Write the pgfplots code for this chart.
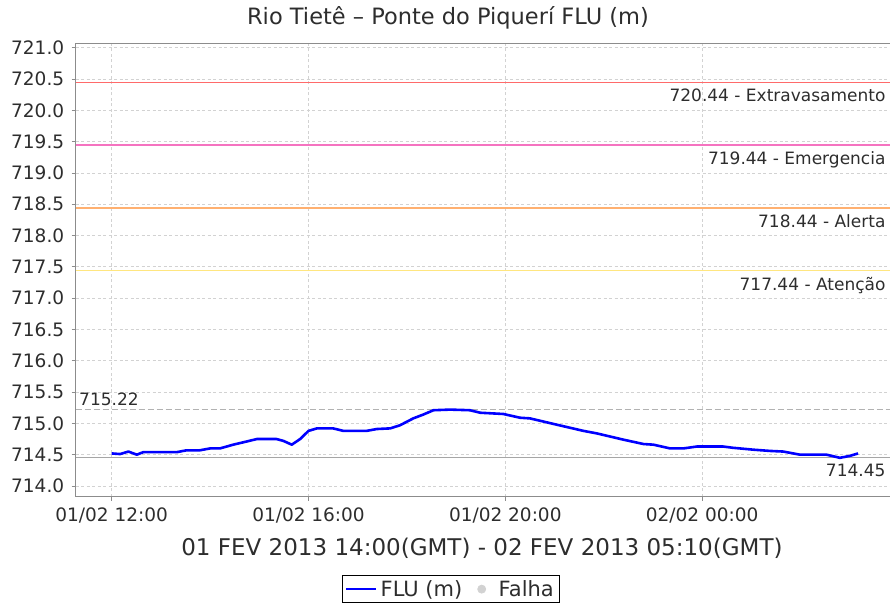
\documentclass[border=0pt]{standalone}
\usepackage{fontspec}
\setmainfont{DejaVu Sans}
\usepackage{pgfplots}
\pgfplotsset{compat=1.18}
\definecolor{gridc}{RGB}{210,210,210}
\definecolor{axc}{RGB}{140,140,140}
\definecolor{txt}{RGB}{45,45,45}
\definecolor{extrav}{HTML}{FF6A6A}
\definecolor{alerta}{HTML}{FFB070}
\definecolor{atenc}{HTML}{FFE680}
\colorlet{emergc}{magenta!55!white}
\begin{document}
\begin{tikzpicture}[x=1pt,y=1pt]
\useasboundingbox (-75.7,-116.3) rectangle (814.3,496.7);
\begin{axis}[
  at={(0,0)}, anchor=south west,
  scale only axis, width=814.3pt, height=453.4pt,
  xmin=11.268, xmax=27.819, ymin=713.829, ymax=721.07,
  axis line style={axc, line width=1pt},
  xtick={12,16,20,24},
  xticklabels={01/02 12:00,01/02 16:00,01/02 20:00,02/02 00:00},
  ytick={714,714.5,...,721.01},
  /pgf/number format/fixed, /pgf/number format/fixed zerofill, /pgf/number format/precision=1,
  /pgf/number format/assume math mode=true,
  tick style={axc, line width=0.8pt},
  tick align=outside, major tick length=4pt,
  xtick pos=bottom, ytick pos=left,
  ticklabel style={font=\fontsize{18.5}{20}\selectfont, text=txt},
  yticklabel style={xshift=-4pt},
  xticklabel style={yshift=-4pt},
  grid=major,
  major grid style={gridc, dash pattern=on 3pt off 2.5pt, line width=0.8pt},
  legend style={at={(0.4609,-0.1727)}, anchor=north, legend columns=2,
     draw=black, line width=0.8pt, font=\fontsize{21}{23}\selectfont, text=txt,
     inner xsep=3pt, inner ysep=3pt,
     nodes={inner xsep=3pt},
     /tikz/every odd column/.append style={column sep=0pt},
     /tikz/every even column/.append style={column sep=12pt}},
  legend cell align=left,
  clip=false,
]
% threshold lines
\addplot[extrav, line width=1.5pt, forget plot] coordinates {(11.268,720.44) (27.819,720.44)};
\addplot[emergc, line width=1.8pt, forget plot] coordinates {(11.268,719.44) (27.819,719.44)};
\addplot[alerta, line width=1.5pt, forget plot] coordinates {(11.268,718.44) (27.819,718.44)};
\addplot[atenc, line width=1.5pt, forget plot] coordinates {(11.268,717.44) (27.819,717.44)};
\addplot[gray!60, line width=0.9pt, dash pattern=on 6pt off 3pt, forget plot] coordinates {(11.268,715.22) (27.819,715.22)};
\addplot[gray!70, line width=0.9pt, forget plot] coordinates {(11.268,714.45) (27.819,714.45)};
\node[anchor=north east, font=\fontsize{17}{19}\selectfont, text=txt] at (axis cs:27.819,720.44) [xshift=-1pt,yshift=-3pt] {720.44 - Extravasamento};
\node[anchor=north east, font=\fontsize{17}{19}\selectfont, text=txt] at (axis cs:27.819,719.44) [xshift=-1pt,yshift=-3pt] {719.44 - Emergencia};
\node[anchor=north east, font=\fontsize{17}{19}\selectfont, text=txt] at (axis cs:27.819,718.44) [xshift=-1pt,yshift=-3pt] {718.44 - Alerta};
\node[anchor=north east, font=\fontsize{17}{19}\selectfont, text=txt] at (axis cs:27.819,717.44) [xshift=-1pt,yshift=-3pt] {717.44 - Atenção};
\node[anchor=south west, font=\fontsize{17}{19}\selectfont, text=txt] at (axis cs:11.268,715.22) [xshift=0pt,yshift=0pt] {715.22};
\node[anchor=north east, font=\fontsize{17}{19}\selectfont, text=txt] at (axis cs:27.819,714.45) [xshift=-1pt,yshift=-3pt] {714.45};
% data
\addplot[blue, line width=2.6pt, line join=round,
  legend image code/.code={\draw[blue, line width=2.4pt] (0pt,0pt) -- (30pt,0pt);}] coordinates {
(12.00,714.52) (12.17,714.51) (12.34,714.55) (12.51,714.50) (12.64,714.54)
(13.32,714.54) (13.52,714.57) (13.79,714.57) (14.00,714.60) (14.20,714.60)
(14.47,714.66) (14.74,714.71) (14.95,714.75) (15.35,714.75) (15.49,714.72)
(15.66,714.66) (15.83,714.75) (16.00,714.88) (16.17,714.92) (16.50,714.92)
(16.71,714.88) (17.18,714.88) (17.39,714.91) (17.66,714.92) (17.86,714.97)
(18.13,715.08) (18.33,715.14) (18.54,715.21) (18.88,715.22) (19.28,715.21)
(19.49,715.17) (19.96,715.15) (20.30,715.09) (20.50,715.08) (21.04,714.98)
(21.59,714.88) (21.86,714.84) (22.40,714.74) (22.81,714.67) (23.01,714.66)
(23.35,714.60) (23.62,714.60) (23.89,714.63) (24.43,714.63) (24.63,714.61)
(25.04,714.58) (25.38,714.56) (25.65,714.55) (25.99,714.50) (26.53,714.50)
(26.80,714.45) (27.00,714.48) (27.17,714.52)
};
\addlegendentry{FLU (m)}
\addlegendimage{legend image code/.code={\path[draw=none,fill=none] (0pt,-1pt) rectangle (18pt,1pt); \fill[gray!35] (4pt,0pt) circle (4pt);}}
\addlegendentry{Falha}
\end{axis}
\node[font=\fontsize{22.5}{24}\selectfont, text=txt] at (372.3,478.7) {Rio Tietê – Ponte do Piquerí FLU (m)};
\node[font=\fontsize{23}{25}\selectfont, text=txt] at (406.3,-51.3) {01 FEV 2013 14:00(GMT) - 02 FEV 2013 05:10(GMT)};
\end{tikzpicture}
\end{document}
